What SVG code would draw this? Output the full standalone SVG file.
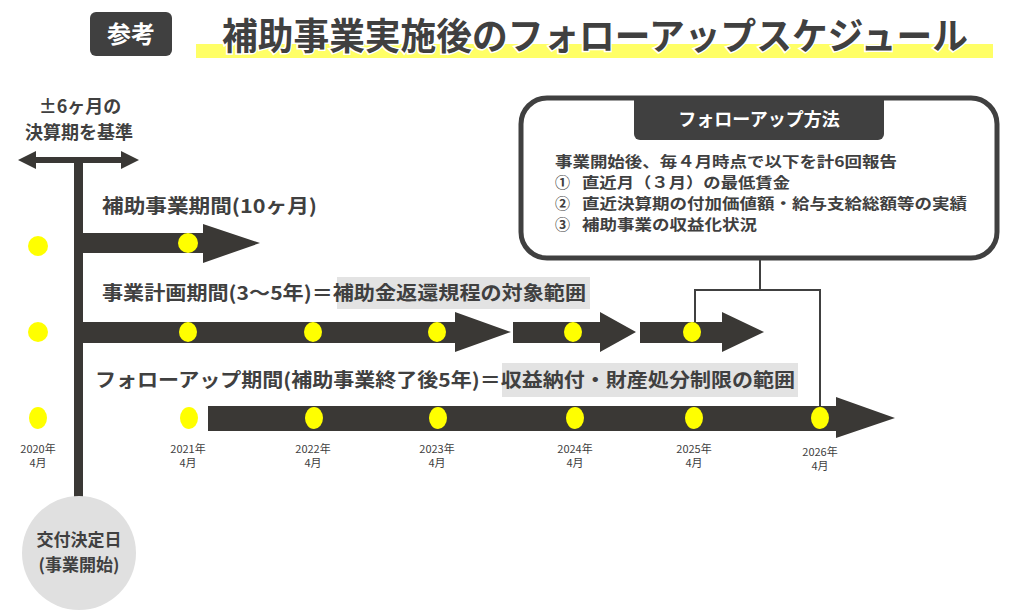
<svg xmlns="http://www.w3.org/2000/svg" width="1024" height="613" viewBox="0 0 1024 613">
<style>
.t{font-family:"Noto Sans CJK JP","Noto Sans",sans-serif;font-weight:bold;fill:#404040}
.y{font-family:"Liberation Sans Narrow","Noto Sans CJK JP",sans-serif;font-size:11px;fill:#404040;text-anchor:middle}
.ar{fill:#3a3835}
.dot{fill:#ffff00}
.hl{fill:#e3e3e3}
.ln{stroke:#404040;stroke-width:2;fill:none}
</style>
<rect width="1024" height="613" fill="#ffffff"/>
<g id="title">
<rect x="90" y="12" width="82" height="44" rx="6" fill="#404040"/>
<text x="131" y="43" class="t" font-size="24" style="fill:#ffffff" text-anchor="middle">参考</text>
<rect x="196" y="44" width="797" height="14" fill="#ffff66"/>
<text x="222" y="50" class="t" font-size="37" textLength="746" lengthAdjust="spacingAndGlyphs" stroke="#ffffff" stroke-width="3" paint-order="stroke">補助事業実施後のフォローアップスケジュール</text>
</g>
<g id="basis">
<text x="80" y="113" class="t" font-size="18" text-anchor="middle">±6ヶ月の</text>
<text x="79" y="139" class="t" font-size="18" text-anchor="middle">決算期を基準</text>
<polygon class="ar" points="18,160 36,151 36,157 121,157 121,151 139,160 121,169 121,163 36,163 36,169"/>
</g>
<g id="axis">
<rect x="74" y="160" width="9" height="340" class="ar"/>
</g>
<g id="start">
<circle cx="79" cy="553" r="57" fill="#e0e0e0"/>
<text x="79" y="546" class="t" font-size="17" text-anchor="middle">交付決定日</text>
<text x="79" y="571" class="t" font-size="17" text-anchor="middle">(事業開始)</text>
</g>
<g id="connectors">
<polygon class="ar" points="83,233 203,233 203,224 260,243 203,263 203,253 83,253"/>
<polygon class="ar" points="83,322 455,322 455,312 511,332 455,352 455,343 83,343"/>
<polygon class="ar" points="513,322 600,322 600,312 636,332 600,352 600,343 513,343"/>
<polygon class="ar" points="640,322 722,322 722,312 764,332 722,352 722,343 640,343"/>
<polygon class="ar" points="208,406 836,406 836,397 895,418 836,438 836,431 208,431"/>
<polyline class="ln" points="760,258 760,290"/>
<polyline class="ln" points="695,332 695,290 820,290 820,418"/>
</g>
<g id="row1">
<text x="102" y="213" class="t" font-size="19" textLength="215" lengthAdjust="spacingAndGlyphs">補助事業期間(10ヶ月)</text>
<ellipse class="dot" cx="38" cy="246" rx="10" ry="10"/>
<ellipse class="dot" cx="188" cy="243" rx="10" ry="10"/>
</g>
<g id="row2">
<rect x="337" y="277" width="253" height="32" class="hl"/>
<text x="102" y="300" class="t" font-size="19" textLength="484" lengthAdjust="spacingAndGlyphs">事業計画期間(3～5年)＝補助金返還規程の対象範囲</text>
<ellipse class="dot" cx="38" cy="332" rx="10" ry="10"/>
<ellipse class="dot" cx="188" cy="332" rx="9" ry="10"/>
<ellipse class="dot" cx="313" cy="332" rx="9" ry="10"/>
<ellipse class="dot" cx="437" cy="332" rx="9" ry="10"/>
<ellipse class="dot" cx="573" cy="332" rx="9" ry="10"/>
<ellipse class="dot" cx="692" cy="332" rx="9" ry="10"/>
</g>
<g id="row3">
<rect x="502" y="363" width="296" height="34" class="hl"/>
<text x="95" y="387" class="t" font-size="19" textLength="700" lengthAdjust="spacingAndGlyphs">フォローアップ期間(補助事業終了後5年)＝収益納付・財産処分制限の範囲</text>
<ellipse class="dot" cx="38" cy="418" rx="9" ry="11"/>
<ellipse class="dot" cx="189" cy="418" rx="9" ry="11"/>
<ellipse class="dot" cx="314" cy="418" rx="9" ry="11"/>
<ellipse class="dot" cx="438" cy="418" rx="9" ry="11"/>
<ellipse class="dot" cx="575" cy="418" rx="9" ry="11"/>
<ellipse class="dot" cx="694" cy="418" rx="9" ry="11"/>
<ellipse class="dot" cx="820" cy="418" rx="9" ry="11"/>
</g>
<g id="years">
<text class="y" x="38" y="453">2020年</text><text class="y" x="38" y="467">4月</text>
<text class="y" x="188" y="453">2021年</text><text class="y" x="188" y="467">4月</text>
<text class="y" x="313" y="453">2022年</text><text class="y" x="313" y="467">4月</text>
<text class="y" x="437" y="453">2023年</text><text class="y" x="437" y="467">4月</text>
<text class="y" x="575" y="453">2024年</text><text class="y" x="575" y="467">4月</text>
<text class="y" x="694" y="453">2025年</text><text class="y" x="694" y="467">4月</text>
<text class="y" x="820" y="456">2026年</text><text class="y" x="820" y="470">4月</text>
</g>
<g id="followup">
<rect x="521" y="98" width="476" height="160" rx="26" fill="#ffffff" stroke="#404040" stroke-width="5"/>
<path d="M634,99 H884 V134 a6,6 0 0 1 -6,6 H640 a6,6 0 0 1 -6,-6 Z" fill="#404040"/>
<text x="759" y="126" class="t" font-size="18" style="fill:#ffffff" text-anchor="middle">フォローアップ方法</text>
<text x="555" y="167" class="t" font-size="15" textLength="342" lengthAdjust="spacingAndGlyphs">事業開始後、毎４月時点で以下を計6回報告</text>
<text x="555" y="188" class="t" font-size="15">①</text>
<text x="582" y="188" class="t" font-size="15" textLength="208" lengthAdjust="spacingAndGlyphs">直近月（３月）の最低賃金</text>
<text x="555" y="209" class="t" font-size="15">②</text>
<text x="582" y="209" class="t" font-size="15" textLength="385" lengthAdjust="spacingAndGlyphs">直近決算期の付加価値額・給与支給総額等の実績</text>
<text x="555" y="230" class="t" font-size="15">③</text>
<text x="582" y="230" class="t" font-size="15" textLength="175" lengthAdjust="spacingAndGlyphs">補助事業の収益化状況</text>
</g>
</svg>
